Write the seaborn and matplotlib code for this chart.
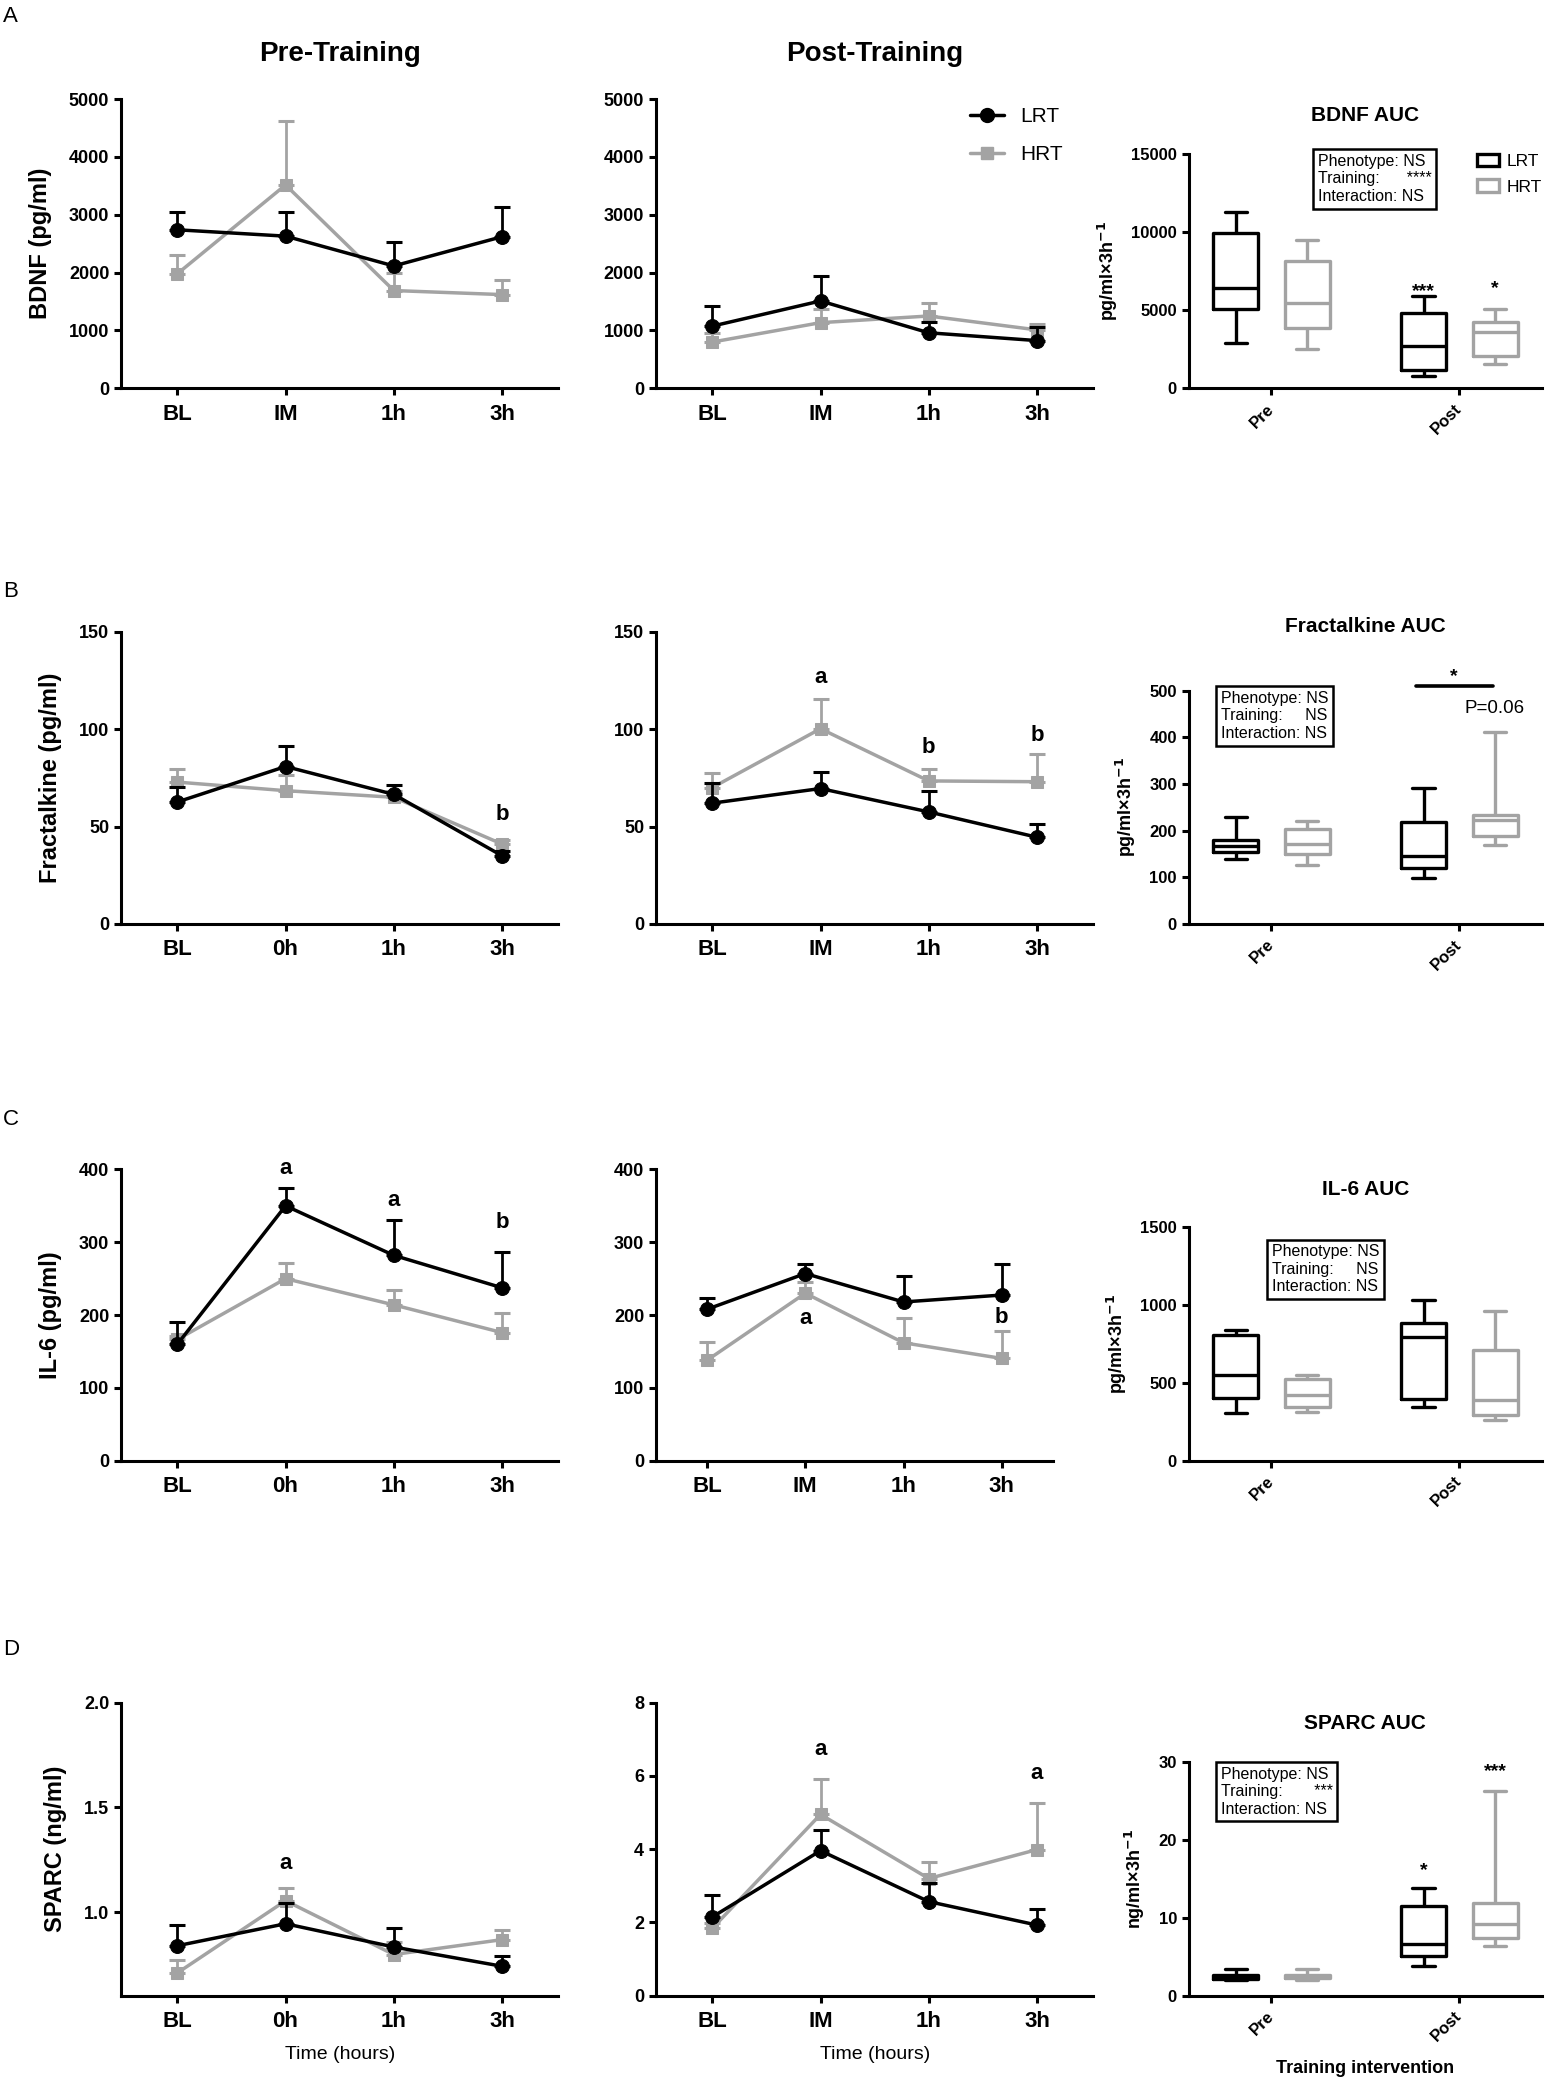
import numpy as np
import pandas as pd
import seaborn as sns
import matplotlib.pyplot as plt
from matplotlib.lines import Line2D
from matplotlib.patches import Patch

# ---- time points ----
pre_labels_bdnf = ['BL', 'IM', '1h', '3h']
pre_labels = ['BL', '0h', '1h', '3h']
post_labels = ['BL', 'IM', '1h', '3h']

# ---- BDNF (pg/ml), mean and SEM ----
bdnf_pre_lrt = [2740, 2630, 2115, 2620]
bdnf_pre_lrt_sem = [305, 415, 420, 510]
bdnf_pre_hrt = [1980, 3515, 1690, 1620]
bdnf_pre_hrt_sem = [320, 1105, 300, 250]
bdnf_post_lrt = [1075, 1510, 960, 825]
bdnf_post_lrt_sem = [345, 430, 190, 230]
bdnf_post_hrt = [800, 1135, 1250, 1010]
bdnf_post_hrt_sem = [150, 230, 220, 110]

# ---- Fractalkine (pg/ml) ----
fkn_pre_lrt = [62.6, 80.8, 66.5, 35.0]
fkn_pre_lrt_sem = [7.5, 10.4, 5.0, 2.5]
fkn_pre_hrt = [72.8, 68.4, 65.0, 41.0]
fkn_pre_hrt_sem = [6.7, 8.0, 3.0, 2.0]
fkn_post_lrt = [62.0, 69.5, 57.5, 44.5]
fkn_post_lrt_sem = [10.2, 8.5, 10.5, 7.0]
fkn_post_hrt = [70.0, 100.2, 73.4, 73.0]
fkn_post_hrt_sem = [7.3, 15.2, 6.0, 14.0]

# ---- IL-6 (pg/ml) ----
il6_pre_lrt = [160, 350, 282, 237.5]
il6_pre_lrt_sem = [30.5, 24, 49, 49.5]
il6_pre_hrt = [166.5, 250, 214, 176]
il6_pre_hrt_sem = [5, 21.5, 21, 26.5]
il6_post_lrt = [208, 257, 218, 227.5]
il6_post_lrt_sem = [15, 12.5, 36, 42]
il6_post_hrt = [138, 230, 162, 140.5]
il6_post_hrt_sem = [25, 15, 33.5, 37.5]

# ---- SPARC (ng/ml) ----
sparc_pre_lrt = [0.839, 0.944, 0.833, 0.741]
sparc_pre_lrt_sem = [0.097, 0.10, 0.091, 0.048]
sparc_pre_hrt = [0.709, 1.054, 0.797, 0.868]
sparc_pre_hrt_sem = [0.06, 0.06, 0.06, 0.048]
sparc_post_lrt = [2.15, 3.96, 2.57, 1.93]
sparc_post_lrt_sem = [0.60, 0.56, 0.52, 0.44]
sparc_post_hrt = [1.84, 4.95, 3.20, 3.99]
sparc_post_hrt_sem = [0.15, 0.96, 0.45, 1.28]

# ---- AUC five-number summaries (min, Q1, median, Q3, max) ----
bdnf_auc_pre_lrt = [2930, 5085, 6430, 9915, 11280]
bdnf_auc_pre_hrt = [2520, 3845, 5470, 8140, 9465]
bdnf_auc_post_lrt = [770, 1155, 2715, 4830, 5920]
bdnf_auc_post_hrt = [1580, 2050, 3630, 4230, 5085]

fkn_auc_pre_lrt = [139, 155, 168, 180, 230]
fkn_auc_pre_hrt = [126, 151, 171, 204, 221]
fkn_auc_post_lrt = [98, 121, 146, 219, 292]
fkn_auc_post_hrt = [170, 189, 223, 234, 411]

il6_auc_pre_lrt = [306, 406, 549, 808, 840]
il6_auc_pre_hrt = [310, 346, 419, 524, 551]
il6_auc_post_lrt = [342, 395, 791, 882, 1034]
il6_auc_post_hrt = [261, 293, 391, 712, 962]

sparc_auc_pre_lrt = [1.97, 2.10, 2.40, 2.62, 3.43]
sparc_auc_pre_hrt = [2.06, 2.23, 2.49, 2.66, 3.43]
sparc_auc_post_lrt = [3.82, 5.06, 6.70, 11.6, 13.8]
sparc_auc_post_hrt = [6.44, 7.47, 9.27, 11.93, 26.35]

# ---- significance letters / stars (x index, y value, text) ----
fkn_pre_marks = [(3, 56, 'b')]
fkn_post_marks = [(1, 126.6, 'a'), (2, 90.5, 'b'), (3, 96.6, 'b')]
il6_pre_marks = [(1, 401, 'a'), (2, 357, 'a'), (3, 326.5, 'b')]
il6_post_marks = [(1, 195, 'a'), (3, 196.5, 'b')]
sparc_pre_marks = [(1, 1.232, 'a')]
sparc_post_marks = [(1, 6.71, 'a'), (3, 6.06, 'a')]
bdnf_auc_marks = [(0.81, 6170, '***'), (1.19, 6390, '*')]
sparc_auc_marks = [(0.81, 16.1, '*'), (1.19, 28.8, '***')]

stats_bdnf = 'Phenotype: NS\nTraining:      ****\nInteraction: NS'
stats_ns = 'Phenotype: NS\nTraining:     NS\nInteraction: NS'
stats_sparc = 'Phenotype: NS\nTraining:       ***\nInteraction: NS'

GREY = '#a3a3a3'

sns.set_style("ticks")
plt.rcParams['font.family'] = ['Liberation Sans', 'DejaVu Sans']
plt.rcParams.update({
    'font.weight': 'bold', 'axes.labelweight': 'bold',
    'axes.linewidth': 2.2, 'axes.edgecolor': 'black',
    'xtick.major.width': 2.2, 'ytick.major.width': 2.2,
    'xtick.major.size': 5, 'ytick.major.size': 5,
    'xtick.color': 'black', 'ytick.color': 'black',
    'text.color': 'black', 'axes.labelcolor': 'black',
    'mathtext.default': 'bf',
})


def draw_lines(ax, labels, lrt, lrt_sem, hrt, hrt_sem, ylim, yticks, marks, fmt='{:g}'):
    x = np.arange(len(labels))
    series = [(hrt, hrt_sem, GREY, 's', 9, 2), (lrt, lrt_sem, 'black', 'o', 10, 4)]
    for vals, sem, col, mk, ms, z in series:
        ax.errorbar(x, vals, yerr=[np.zeros(len(x)), sem], fmt='none', ecolor=col,
                    elinewidth=2, capsize=6, capthick=2.2, zorder=z)
        sns.lineplot(x=x, y=vals, color=col, marker=mk, markersize=ms,
                     markeredgecolor=col, linewidth=2.5, ax=ax, zorder=z + 1)
    ax.set_xlim(-0.52, 3.52)
    ax.set_ylim(*ylim)
    ax.set_xticks(x)
    ax.set_xticklabels(labels, fontsize=16)
    ax.set_yticks(yticks)
    ax.set_yticklabels([fmt.format(t) for t in yticks], fontsize=13)
    ax.tick_params(axis='x', pad=6)
    for xi, yi, s in marks:
        ax.text(xi, yi, s, ha='center', va='center', fontsize=16)
    sns.despine(ax=ax)


def draw_box(ax, groups, ylim, yticks, ylabel, title, title_y, stats, stats_xy, marks):
    rows = []
    for phase, grp, vals in groups:
        rows += [(phase, grp, v) for v in vals]
    df = pd.DataFrame(rows, columns=['phase', 'group', 'auc'])
    sns.boxplot(data=df, x='phase', y='auc', hue='group', order=['Pre', 'Post'],
                hue_order=['LRT', 'HRT'], palette={'LRT': 'black', 'HRT': GREY},
                saturation=1, fill=False, width=0.76, gap=0.37, whis=(0, 100),
                showfliers=False, linewidth=2.4, legend=False, ax=ax)
    ax.set_xlim(-0.44, 1.44)
    ax.set_ylim(*ylim)
    ax.set_yticks(yticks)
    ax.set_yticklabels([f'{t:g}' for t in yticks], fontsize=12)
    ax.set_xticks([0, 1])
    ax.set_xticklabels(['Pre', 'Post'], rotation=45, ha='right', va='center',
                       rotation_mode='anchor', fontsize=12)
    ax.tick_params(axis='x', pad=8)
    ax.set_xlabel('')
    ax.set_ylabel(ylabel, fontsize=13, labelpad=8)
    ax.text(0.5, title_y, title, transform=ax.transAxes, ha='center', va='center',
            fontsize=15)
    ax.text(stats_xy[0], stats_xy[1], stats, transform=ax.transAxes, ha='left', va='top',
            fontsize=11.5, fontweight='normal', linespacing=1.2,
            bbox=dict(boxstyle='square,pad=0.3', fc='white', ec='black', lw=1.8))
    for xi, yi, s in marks:
        ax.text(xi, yi, s, ha='center', va='center', fontsize=14)
    sns.despine(ax=ax)


fig = plt.figure(figsize=(15.56, 20.8), dpi=100)

rows_pos = {
    'A': (0.8133, 0.1391, 0.1127),
    'B': (0.5558, 0.1405, 0.1121),
    'C': (0.2977, 0.1401, 0.1124),
    'D': (0.0405, 0.1409, 0.1122),
}
L_X, M_X, R_X = 0.0778, 0.4216, 0.764
LW, RW = 0.281, 0.227


def row_axes(key, mid_w=LW):
    b, h, bh = rows_pos[key]
    return (fig.add_axes([L_X, b, LW, h]), fig.add_axes([M_X, b, mid_w, h]),
            fig.add_axes([R_X, b, RW, bh]))


# ---- Row A: BDNF ----
a1, a2, a3 = row_axes('A')
draw_lines(a1, pre_labels_bdnf, bdnf_pre_lrt, bdnf_pre_lrt_sem, bdnf_pre_hrt, bdnf_pre_hrt_sem,
           (0, 5000), [0, 1000, 2000, 3000, 4000, 5000], [])
draw_lines(a2, post_labels, bdnf_post_lrt, bdnf_post_lrt_sem, bdnf_post_hrt, bdnf_post_hrt_sem,
           (0, 5000), [0, 1000, 2000, 3000, 4000, 5000], [])
a1.set_ylabel('BDNF (pg/ml)', fontsize=17, labelpad=12)
line_handles = [
    Line2D([0], [0], color='black', marker='o', markersize=10, lw=2.5, label='LRT'),
    Line2D([0], [0], color=GREY, marker='s', markersize=9, lw=2.5, label='HRT'),
]
a2.legend(handles=line_handles, loc='upper left', bbox_to_anchor=(0.70, 1.0), frameon=False,
          prop={'size': 15, 'weight': 'normal'}, handlelength=1.6, labelspacing=0.9,
          borderaxespad=0)
draw_box(a3, [('Pre', 'LRT', bdnf_auc_pre_lrt), ('Pre', 'HRT', bdnf_auc_pre_hrt),
              ('Post', 'LRT', bdnf_auc_post_lrt), ('Post', 'HRT', bdnf_auc_post_hrt)],
         (0, 15000), [0, 5000, 10000, 15000], r'pg/ml×3h$^{-1}$', 'BDNF AUC', 1.162,
         stats_bdnf, (0.365, 1.0), bdnf_auc_marks)
box_handles = [Patch(facecolor='white', edgecolor='black', lw=2.4, label='LRT'),
               Patch(facecolor='white', edgecolor=GREY, lw=2.4, label='HRT')]
a3.legend(handles=box_handles, loc='upper left', bbox_to_anchor=(0.815, 1.0), frameon=False,
          prop={'size': 12.5, 'weight': 'normal'}, handlelength=1.3, handleheight=0.7,
          handletextpad=0.45, labelspacing=0.6, borderaxespad=0, borderpad=0)

# ---- Row B: Fractalkine ----
b1, b2, b3 = row_axes('B')
draw_lines(b1, pre_labels, fkn_pre_lrt, fkn_pre_lrt_sem, fkn_pre_hrt, fkn_pre_hrt_sem,
           (0, 150), [0, 50, 100, 150], fkn_pre_marks)
draw_lines(b2, post_labels, fkn_post_lrt, fkn_post_lrt_sem, fkn_post_hrt, fkn_post_hrt_sem,
           (0, 150), [0, 50, 100, 150], fkn_post_marks)
b1.set_ylabel('Fractalkine (pg/ml)', fontsize=17, labelpad=12)
draw_box(b3, [('Pre', 'LRT', fkn_auc_pre_lrt), ('Pre', 'HRT', fkn_auc_pre_hrt),
              ('Post', 'LRT', fkn_auc_post_lrt), ('Post', 'HRT', fkn_auc_post_hrt)],
         (0, 500), [0, 100, 200, 300, 400, 500], r'pg/ml×3h$^{-1}$', 'Fractalkine AUC', 1.275,
         stats_ns, (0.09, 0.999), [(0.97, 530, '*')])
b3.plot([0.77, 1.18], [510, 510], color='black', lw=2.6, clip_on=False)
b3.text(1.19, 461, 'P=0.06', ha='center', va='center', fontsize=13.5, fontweight='normal')

# ---- Row C: IL-6 ----
c1, c2, c3 = row_axes('C', mid_w=0.255)
draw_lines(c1, pre_labels, il6_pre_lrt, il6_pre_lrt_sem, il6_pre_hrt, il6_pre_hrt_sem,
           (0, 400), [0, 100, 200, 300, 400], il6_pre_marks)
draw_lines(c2, post_labels, il6_post_lrt, il6_post_lrt_sem, il6_post_hrt, il6_post_hrt_sem,
           (0, 400), [0, 100, 200, 300, 400], il6_post_marks)
c1.set_ylabel('IL-6 (pg/ml)', fontsize=17, labelpad=12)
draw_box(c3, [('Pre', 'LRT', il6_auc_pre_lrt), ('Pre', 'HRT', il6_auc_pre_hrt),
              ('Post', 'LRT', il6_auc_post_lrt), ('Post', 'HRT', il6_auc_post_hrt)],
         (0, 1500), [0, 500, 1000, 1500], r'pg/ml×3h$^{-1}$', 'IL-6 AUC', 1.162,
         stats_ns, (0.235, 0.926), [])

# ---- Row D: SPARC ----
d1, d2, d3 = row_axes('D')
draw_lines(d1, pre_labels, sparc_pre_lrt, sparc_pre_lrt_sem, sparc_pre_hrt, sparc_pre_hrt_sem,
           (0.6, 2.0), [1.0, 1.5, 2.0], sparc_pre_marks, fmt='{:.1f}')
draw_lines(d2, post_labels, sparc_post_lrt, sparc_post_lrt_sem, sparc_post_hrt, sparc_post_hrt_sem,
           (0, 8), [0, 2, 4, 6, 8], sparc_post_marks)
d1.set_ylabel('SPARC (ng/ml)', fontsize=17, labelpad=12)
for ax in (d1, d2):
    ax.set_xlabel('Time (hours)', fontsize=14, fontweight='normal')
    ax.xaxis.set_label_coords(0.5, -0.17)
draw_box(d3, [('Pre', 'LRT', sparc_auc_pre_lrt), ('Pre', 'HRT', sparc_auc_pre_hrt),
              ('Post', 'LRT', sparc_auc_post_lrt), ('Post', 'HRT', sparc_auc_post_hrt)],
         (0, 30), [0, 10, 20, 30], r'ng/ml×3h$^{-1}$', 'SPARC AUC', 1.167,
         stats_sparc, (0.09, 0.981), sparc_auc_marks)
d3.set_xlabel('Training intervention', fontsize=13)
d3.xaxis.set_label_coords(0.5, -0.276)

# ---- column titles and panel letters ----
fig.text(L_X + LW / 2, 0.974, 'Pre-Training', ha='center', va='center', fontsize=20)
fig.text(M_X + LW / 2, 0.974, 'Post-Training', ha='center', va='center', fontsize=20)
for letter, y in [('A', 0.9923), ('B', 0.7154), ('C', 0.462), ('D', 0.2072)]:
    fig.text(0.002, y, letter, ha='left', va='center', fontsize=16, fontweight='normal')

fig.savefig('out.png', dpi=100)
